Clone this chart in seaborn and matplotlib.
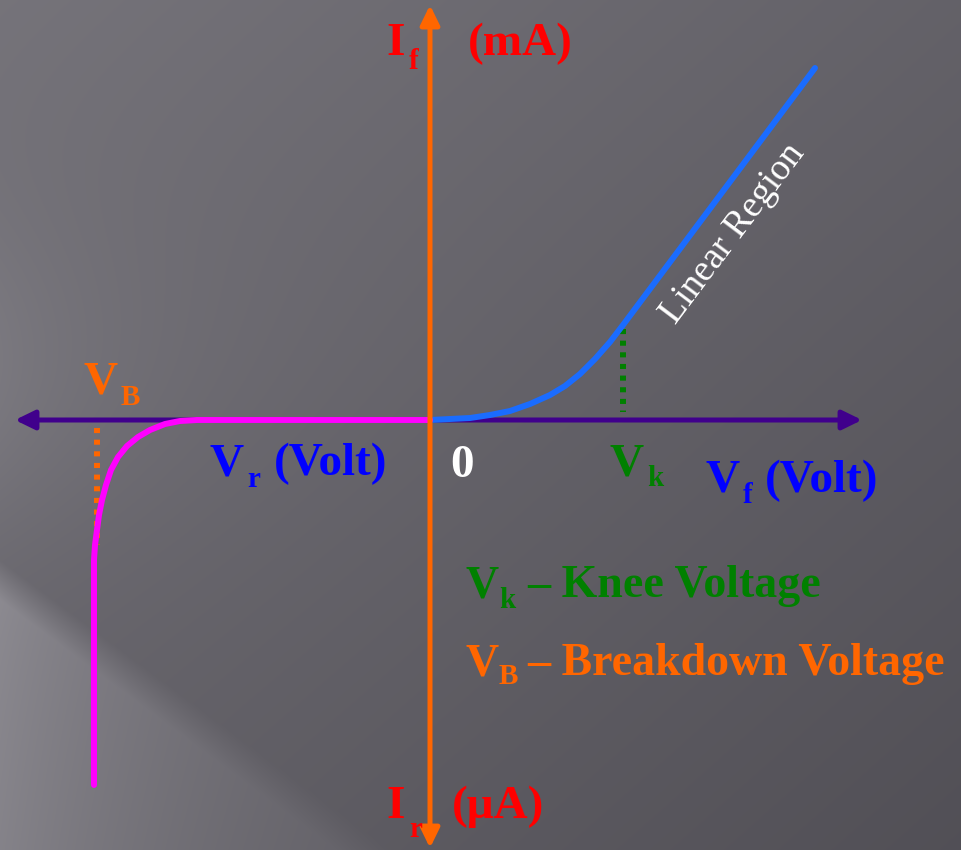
import numpy as np
import pandas as pd
import matplotlib
matplotlib.use("Agg")
import matplotlib.pyplot as plt
import seaborn as sns

# ---- data (x: voltage units, y: current units; origin at the axes crossing) ----
fwd_v = [0, 20, 40, 60, 80, 100, 120, 135, 150, 165, 180, 193, 385]
fwd_i = [0, 1, 2, 5, 9, 16, 25, 34, 46, 61, 78, 95, 352]
rev_v = [0, -233, -250, -265, -280, -292, -303, -312, -319, -324, -328, -331, -333, -335, -336, -336]
rev_i = [0, 0, -1, -4, -10, -17, -26, -37, -50, -65, -80, -95, -110, -125, -140, -365]
knee_v, knee_i = 193, 95
breakdown_v, breakdown_i = -335, -125

sns.set_theme(style="white")
plt.rcParams['font.family'] = ['Liberation Serif', 'DejaVu Serif']

W, H = 961, 850
OX, OY = 430, 420
fig = plt.figure(figsize=(W / 100, H / 100), dpi=100)
ax = fig.add_axes([0, 0, 1, 1])
ax.set_xlim(-OX, W - OX)
ax.set_ylim(-(H - OY), OY)
ax.axis('off')

# ---- background gradient ----
yy, xx = np.mgrid[0:H, 0:W]
xn, yn = xx / W, yy / H
v = 0.46 - 0.07 * xn - 0.07 * yn
line_y = 560 + (xx * 290 / 390)
band = (yy > line_y).astype(float)
v += 0.13 * band * np.exp(-xx / 260.0) * np.clip((yy - line_y) / 40.0, 0, 1)
v += 0.05 * np.exp(-xx / 140.0) * np.exp(-((yy - 380) / 160.0) ** 2)
img = np.clip(np.dstack([v, v - 0.008, v + 0.018]), 0, 1)
ax.imshow(img, extent=(-OX, W - OX, -(H - OY), OY), aspect='auto', zorder=0,
          interpolation='bilinear')

# ---- axes arrows ----
ax.annotate('', xy=(432, 0), xytext=(-415, 0),
            arrowprops=dict(arrowstyle='<|-|>,head_length=0.45,head_width=0.22',
                            lw=3.6, color='#40008c', mutation_scale=26,
                            shrinkA=0, shrinkB=0), zorder=2)
ax.annotate('', xy=(0, 415), xytext=(0, -428),
            arrowprops=dict(arrowstyle='<|-|>,head_length=0.45,head_width=0.22',
                            lw=3.6, color='#ff6600', mutation_scale=26,
                            shrinkA=0, shrinkB=0), zorder=4)

# ---- curves ----
fwd = pd.DataFrame({'V': fwd_v, 'I': fwd_i})
rev = pd.DataFrame({'V': rev_v, 'I': rev_i})
sns.lineplot(data=fwd, x='V', y='I', sort=False, estimator=None, ax=ax,
             color='#1a6cff', lw=4.3, zorder=3)
sns.lineplot(data=rev, x='V', y='I', sort=False, estimator=None, ax=ax,
             color='#ff00ff', lw=4.3, zorder=3)
ax.set_xlim(-OX, W - OX)
ax.set_ylim(-(H - OY), OY)
ax.axis('off')

# ---- dotted guide lines ----
ax.plot([knee_v, knee_v], [knee_i - 4, 8], color='#008000', lw=4.3,
        linestyle=(0, (0.85, 1.1)), dash_capstyle='butt', zorder=2)
ax.plot([breakdown_v + 2, breakdown_v + 2], [-8, breakdown_i], color='#ff6600', lw=4.3,
        linestyle=(0, (0.85, 1.1)), dash_capstyle='butt', zorder=2)

# ---- text helpers (positions in pixels) ----
def T(px, py, s, color, size, **kw):
    ax.text(px - OX, OY - py, s, color=color, fontsize=size, fontweight='bold',
            ha='left', va='baseline', zorder=5, **kw)

BIG = 34
NOTE = 33
SUB = 21
# I_f (mA)
T(386, 55, 'I', '#ff0000', BIG)
T(409, 69, 'f', '#ff0000', SUB)
T(468, 55, '(mA)', '#ff0000', BIG)
# I_r (μA)
T(386, 818, 'I', '#ff0000', BIG)
T(409, 837, 'r', '#ff0000', SUB)
T(452, 818, '(μA)', '#ff0000', BIG)
# V_B
T(83, 393, 'V', '#ff6600', BIG)
T(121, 405, 'B', '#ff6600', SUB)
# V_r (Volt)
T(209, 475, 'V', '#0000ff', BIG)
T(247, 487, 'r', '#0000ff', SUB)
T(274, 475, '(Volt)', '#0000ff', BIG)
# 0
T(450, 477, '0', 'white', BIG)
# V_k
T(609, 475, 'V', '#008000', BIG)
T(647, 486, 'k', '#008000', SUB)
# V_f (Volt)
T(706, 492, 'V', '#0000ff', BIG)
T(743, 503, 'f', '#0000ff', SUB)
T(765, 492, '(Volt)', '#0000ff', BIG)
# notes
T(466, 597, 'V', '#008000', NOTE)
T(499, 608, 'k', '#008000', SUB)
T(527, 597, '– Knee Voltage', '#008000', NOTE)
T(466, 675, 'V', '#ff6600', NOTE)
T(499, 684, 'B', '#ff6600', SUB)
T(527, 675, '– Breakdown Voltage', '#ff6600', NOTE)
# Linear Region
ax.text(733 - OX, OY - 234, 'Linear Region', color='white', fontsize=27,
        rotation=53, rotation_mode='anchor', ha='center', va='center', zorder=5)

fig.savefig('out.png', dpi=100)
